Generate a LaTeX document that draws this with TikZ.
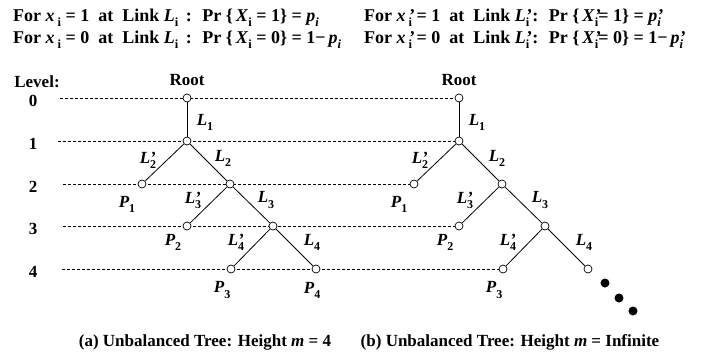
\documentclass[tikz,border=0pt]{standalone}
\usepackage{fontspec}
\setmainfont{Liberation Serif}
\usetikzlibrary{backgrounds}
\newcommand\mysub[1]{\raisebox{-0.3em}{\fontsize{12}{12}\selectfont #1}}
\newcommand\hsub[1]{\raisebox{-0.3em}{\fontsize{12.5}{12.5}\selectfont #1}}
\newcommand\myprime{\rlap{\textit{’}}}
\begin{document}
\begin{tikzpicture}[x=1pt,y=-1pt,
  tnode/.style={circle, draw, fill=white, inner sep=0pt, minimum size=8pt, line width=0.7pt},
  lvl/.style={dash pattern=on 3pt off 2pt, line width=0.6pt},
  edge/.style={line width=0.8pt},
  txt/.style={font=\fontsize{17}{20}\selectfont\bfseries, inner sep=0pt},
  htxt/.style={font=\fontsize{18}{21}\selectfont\bfseries, inner sep=0pt, anchor=base west},
  dotb/.style={circle, fill=black, inner sep=0pt, minimum size=9pt}]
\useasboundingbox (0,0) rectangle (727,356);
% header
\node[htxt] (h1) at (13,21) {For \textit{x}\,\hsub{i} = 1 \ at \ Link \textit{L}\hsub{i} \,: \ Pr \{\,\textit{X}\hsub{i} = 1\} = \textit{p}\hsub{\textit{i}}};
\node[htxt] (h2) at (13,43) {For \textit{x}\,\hsub{i} = 0 \ at \ Link \textit{L}\hsub{i} \,: \ Pr \{\,\textit{X}\hsub{i} = 0\} = 1−\,\textit{p}\hsub{\textit{i}}};
\node[htxt] (h3) at (364,21) {For \textit{x}\,\myprime\hsub{i} = 1 \ at \ Link \textit{L}\myprime\hsub{i}\,: \ Pr \{\,\textit{X}\myprime\hsub{i}= 1\} = \textit{p}\myprime\hsub{\textit{i}}};
\node[htxt] (h4) at (364,43) {For \textit{x}\,\myprime\hsub{i} = 0 \ at \ Link \textit{L}\myprime\hsub{i}\,: \ Pr \{\,\textit{X}\myprime\hsub{i}= 0\} = 1−\,\textit{p}\myprime\hsub{\textit{i}}};
% level labels
\node[txt] (lev) at (37,82) {Level:};
\node[txt] (l0) at (33,101) {0};
\node[txt] (l1) at (33,144) {1};
\node[txt] (l2) at (33,187) {2};
\node[txt] (l3) at (33,229) {3};
\node[txt] (l4) at (33,272) {4};
\coordinate (s0) at (60,98);
\coordinate (s1) at (58,141);
\coordinate (s2) at (63,184);
\coordinate (s3) at (63,226);
\coordinate (s4) at (62,269);
% left tree
\node[tnode] (a0) at (187,98) {};
\node[tnode] (a1) at (187,141) {};
\node[tnode] (p1) at (142,184) {};
\node[tnode] (a2) at (230,184) {};
\node[tnode] (p2) at (187,226) {};
\node[tnode] (a3) at (273,226) {};
\node[tnode] (p3) at (231,269) {};
\node[tnode] (p4) at (316,269) {};
% right tree
\node[tnode] (b0) at (459,98) {};
\node[tnode] (b1) at (459,141) {};
\node[tnode] (q1) at (414,184) {};
\node[tnode] (b2) at (502,184) {};
\node[tnode] (q2) at (459,226) {};
\node[tnode] (b3) at (545,226) {};
\node[tnode] (q3) at (503,269) {};
\node[tnode] (b4) at (588,269) {};
\node[dotb] (d1) at (605,283) {};
\node[dotb] (d2) at (619,298) {};
\node[dotb] (d3) at (633,311) {};
\begin{scope}[on background layer]
\draw[lvl] (s0) -- (b0);
\draw[lvl] (s1) -- (b1);
\draw[lvl] (s2) -- (q1);
\draw[lvl] (s3) -- (q2);
\draw[lvl] (s4) -- (q3);
\end{scope}
\draw[edge] (a0) -- (a1);
\draw[edge] (a1) -- (p1);
\draw[edge] (a1) -- (a2);
\draw[edge] (a2) -- (p2);
\draw[edge] (a2) -- (a3);
\draw[edge] (a3) -- (p3);
\draw[edge] (a3) -- (p4);
\draw[edge] (b0) -- (b1);
\draw[edge] (b1) -- (q1);
\draw[edge] (b1) -- (b2);
\draw[edge] (b2) -- (q2);
\draw[edge] (b2) -- (b3);
\draw[edge] (b3) -- (q3);
\draw[edge] (b3) -- (b4);
% labels left
\node[txt] (root1) at (187,80) {Root};
\node[txt] (la1) at (205,122) {\textit{L}\mysub{1}};
\node[txt] (la2p) at (148,160) {\textit{L}\myprime\mysub{2}};
\node[txt] (la2) at (223,158) {\textit{L}\mysub{2}};
\node[txt] (pa1) at (127,204) {\textit{P}\mysub{1}};
\node[txt] (la3p) at (193,200) {\textit{L}\myprime\mysub{3}};
\node[txt] (la3) at (266,200) {\textit{L}\mysub{3}};
\node[txt] (pa2) at (173,242) {\textit{P}\mysub{2}};
\node[txt] (la4p) at (236,242) {\textit{L}\myprime\mysub{4}};
\node[txt] (la4) at (312,242) {\textit{L}\mysub{4}};
\node[txt] (pa3) at (222,290) {\textit{P}\mysub{3}};
\node[txt] (pa4) at (312,290) {\textit{P}\mysub{4}};
% labels right
\node[txt] (root2) at (459,80) {Root};
\node[txt] (lb1) at (477,122) {\textit{L}\mysub{1}};
\node[txt] (lb2p) at (420,160) {\textit{L}\myprime\mysub{2}};
\node[txt] (lb2) at (497,158) {\textit{L}\mysub{2}};
\node[txt] (pb1) at (399,204) {\textit{P}\mysub{1}};
\node[txt] (lb3p) at (465,200) {\textit{L}\myprime\mysub{3}};
\node[txt] (lb3) at (540,200) {\textit{L}\mysub{3}};
\node[txt] (pb2) at (445,242) {\textit{P}\mysub{2}};
\node[txt] (lb4p) at (508,242) {\textit{L}\myprime\mysub{4}};
\node[txt] (lb4) at (584,242) {\textit{L}\mysub{4}};
\node[txt] (pb3) at (494,290) {\textit{P}\mysub{3}};
% captions
\node[txt] (capa) at (205,342) {(a) Unbalanced Tree: Height \textit{m} = 4};
\node[txt] (capb) at (510,342) {(b) Unbalanced Tree: Height \textit{m} = Infinite};
\end{tikzpicture}
\end{document}
